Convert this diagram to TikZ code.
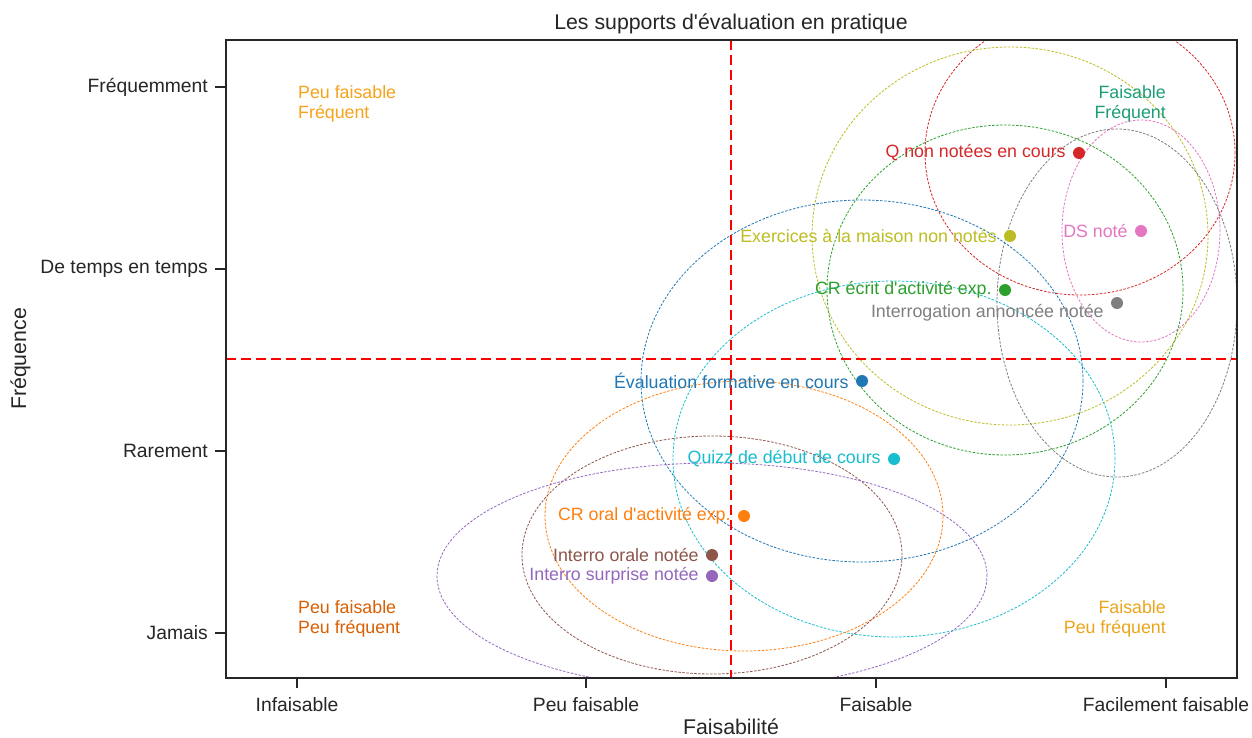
\documentclass[tikz,border=0pt]{standalone}
\usepackage{fontspec}
\setmainfont{Liberation Sans}
\newfontfamily\lsans{Liberation Sans}
\definecolor{tabblue}{HTML}{1F77B4}
\definecolor{taborange}{HTML}{FF7F0E}
\definecolor{tabgreen}{HTML}{2CA02C}
\definecolor{tabred}{HTML}{D62728}
\definecolor{tabpurple}{HTML}{9467BD}
\definecolor{tabbrown}{HTML}{8C564B}
\definecolor{tabpink}{HTML}{E377C2}
\definecolor{tabgray}{HTML}{7F7F7F}
\definecolor{tabolive}{HTML}{BCBD22}
\definecolor{tabcyan}{HTML}{17BECF}
\definecolor{qorange}{HTML}{F5A31A}
\definecolor{qteal}{HTML}{1B9E77}
\definecolor{qdark}{HTML}{D95F02}
\definecolor{qgold}{HTML}{EBA51A}
\definecolor{axisgray}{HTML}{262626}
\newcommand\myptfont{\lsans\fontsize{17.8}{20}\selectfont}
\newcommand\mytickfont{\lsans\fontsize{19.3}{22}\selectfont}
\newcommand\mytitlefont{\lsans\fontsize{21.3}{24}\selectfont}
\begin{document}
\begin{tikzpicture}[x=1pt,y=-1pt,
  ell/.style={line width=0.8pt, dash pattern=on 2.5pt off 1.5pt},
  dot/.style={circle, fill, inner sep=0pt, minimum size=12pt},
  lab/.style={anchor=east, font=\myptfont, inner sep=0pt},
  quad/.style={font=\myptfont, inner sep=0pt},
  ticklab/.style={font=\mytickfont, text=axisgray, inner sep=0pt},
  tickmark/.style={line width=1.5pt, draw=axisgray},
  quadline/.style={red, line width=2.5pt, dash pattern=on 10pt off 5pt}
]
\useasboundingbox (0,0) rectangle (1252,737);
\fill[white] (0,0) rectangle (1252,737);

% ellipses
\begin{scope}
\clip (226,40) rectangle (1237,678);
\draw[ell, tabred]    (1080,153) ellipse [x radius=155pt, y radius=142pt];
\draw[ell, tabpink]   (1141,231) ellipse [x radius=79pt,  y radius=111pt];
\draw[ell, tabolive]  (1010,236) ellipse [x radius=198pt, y radius=189pt];
\draw[ell, tabgreen]  (1005,290) ellipse [x radius=178pt, y radius=165pt];
\draw[ell, tabgray]   (1117,303) ellipse [x radius=120pt, y radius=174pt];
\draw[ell, tabblue]   (862,381)  ellipse [x radius=221pt, y radius=181pt];
\draw[ell, tabcyan]   (894,459)  ellipse [x radius=221pt, y radius=178pt];
\draw[ell, taborange] (744,516)  ellipse [x radius=199pt, y radius=135pt];
\draw[ell, tabbrown]  (712,555)  ellipse [x radius=190pt, y radius=119pt];
\draw[ell, tabpurple] (712,576)  ellipse [x radius=275pt, y radius=113pt];
\end{scope}

% quadrant lines
\coordinate (vtop) at (731,40);
\coordinate (vbot) at (731,678);
\coordinate (hleft) at (226,359);
\coordinate (hright) at (1237,359);
\draw[quadline] (vtop) -- (vbot);
\draw[quadline] (hleft) -- (hright);

% frame
\draw[line width=2pt, axisgray] (226,40) rectangle (1237,678);

% y ticks
\foreach \yy/\txt/\nm in {87/Fréquemment/yt1, 269/De temps en temps/yt2, 451/Rarement/yt3, 633/Jamais/yt4}{
  \draw[tickmark] (215,\yy) -- (226,\yy);
  \node[ticklab, anchor=east] (\nm) at (208,\yy) {\txt};
}
% x ticks
\foreach \xx/\txt/\nm in {297/Infaisable/xt1, 586/Peu faisable/xt2, 876/Faisable/xt3, 1166/Facilement faisable/xt4}{
  \draw[tickmark] (\xx,678) -- (\xx,688);
  \node[ticklab, anchor=base] (\nm) at (\xx,711) {\txt};
}

% axis labels and title
\node[font=\mytitlefont, text=axisgray, anchor=base, inner sep=0pt] (title) at (731,29) {Les supports d'évaluation en pratique};
\node[font=\mytitlefont, text=axisgray, anchor=base, inner sep=0pt] (xlabel) at (731,734) {Faisabilité};
\node[font=\mytitlefont, text=axisgray, anchor=base, rotate=90, inner sep=0pt] (ylabel) at (26,359) {Fréquence};

% quadrant labels
\node[quad, text=qorange, anchor=north west, align=left] (qtl) at (298,85) {Peu faisable\\Fréquent};
\node[quad, text=qteal, anchor=north east, align=right] (qtr) at (1166,85) {Faisable\\Fréquent};
\node[quad, text=qdark, anchor=north west, align=left] (qbl) at (298,600) {Peu faisable\\Peu fréquent};
\node[quad, text=qgold, anchor=north east, align=right] (qbr) at (1166,600) {Faisable\\Peu fréquent};

% points
\node[dot, tabred]    (p1)  at (1079,153) {};
\node[dot, tabpink]   (p2)  at (1141,231) {};
\node[dot, tabolive]  (p3)  at (1010,236) {};
\node[dot, tabgreen]  (p4)  at (1005,290) {};
\node[dot, tabgray]   (p5)  at (1117,303) {};
\node[dot, tabblue]   (p6)  at (862,381)  {};
\node[dot, tabcyan]   (p7)  at (894,459)  {};
\node[dot, taborange] (p8)  at (744,516)  {};
\node[dot, tabbrown]  (p9)  at (712,555)  {};
\node[dot, tabpurple] (p10) at (712,576)  {};

\node[lab, text=tabred]    (l1)  at ([xshift=-7pt]p1.west)  {Q non notées en cours};
\node[lab, text=tabpink]   (l2)  at ([xshift=-7pt]p2.west)  {DS noté};
\node[lab, text=tabolive]  (l3)  at ([xshift=-7pt]p3.west)  {Exercices à la maison non notés};
\node[lab, text=tabgreen]  (l4)  at ([xshift=-7pt]p4.west)  {CR écrit d'activité exp.};
\node[lab, text=tabgray]   (l5)  at ([xshift=-7pt,yshift=-10pt]p5.west)  {Interrogation annoncée notée};
\node[lab, text=tabblue]   (l6)  at ([xshift=-7pt]p6.west)  {Évaluation formative en cours};
\node[lab, text=tabcyan]   (l7)  at ([xshift=-7pt]p7.west)  {Quizz de début de cours};
\node[lab, text=taborange] (l8)  at ([xshift=-7pt]p8.west)  {CR oral d'activité exp.};
\node[lab, text=tabbrown]  (l9)  at ([xshift=-7pt]p9.west)  {Interro orale notée};
\node[lab, text=tabpurple] (l10) at ([xshift=-7pt]p10.west) {Interro surprise notée};
\end{tikzpicture}
\end{document}
